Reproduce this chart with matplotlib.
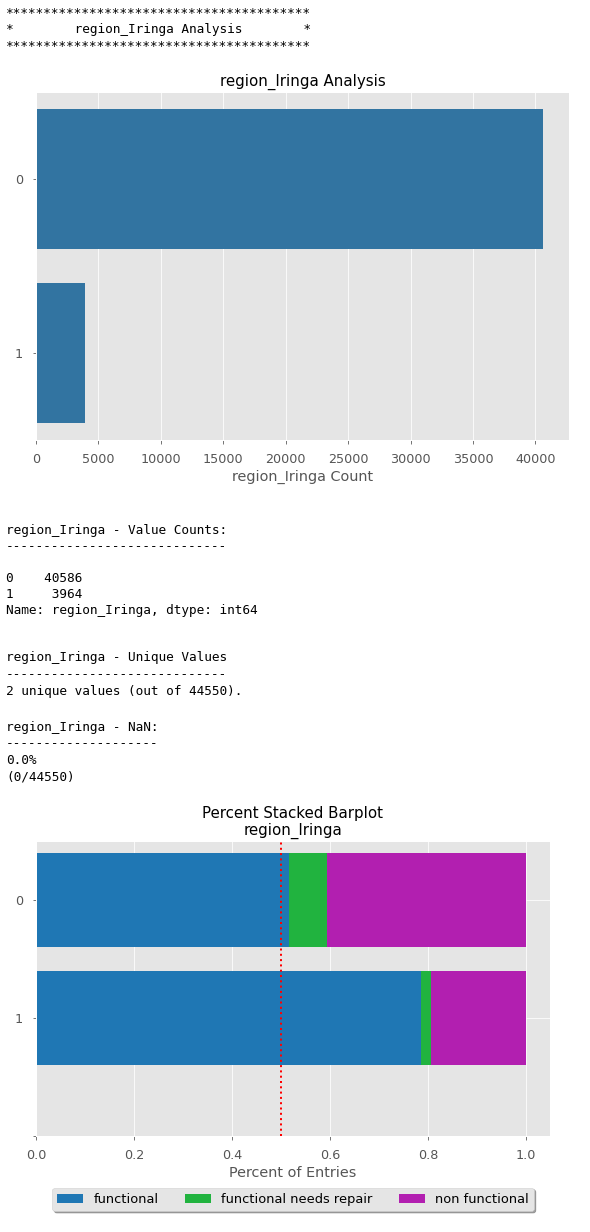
import numpy as np
import matplotlib
matplotlib.use("Agg")
from matplotlib import pyplot as plt

plt.style.use("ggplot")

#The column being looked at
colname = "region_Iringa"
#Value counts for the column
categories = ["0", "1"]
counts = [40586, 3964]
#Share of each pump status per category
status_labels = ["functional", "functional needs repair", "non functional"]
status_colors = ["#1f77b4", "#21b33f", "#b21fb0"]
functional = [0.516, 0.786]
needs_repair = [0.078, 0.020]
non_functional = [0.406, 0.194]

#Printed output around the plots
header = ["*" * 40,
          "*        " + colname + " Analysis        *",
          "*" * 40]
block_counts = [colname + " - Value Counts:",
                "-" * 29,
                "",
                "0    40586",
                "1     3964",
                "Name: " + colname + ", dtype: int64"]
block_unique = [colname + " - Unique Values",
                "-" * 29,
                "2 unique values (out of 44550)."]
block_nan = [colname + " - NaN:",
             "-" * 20,
             "0.0%",
             "(0/44550)"]

W, H = 590, 1232
fig = plt.figure(figsize=(W / 72, H / 72), dpi=72, facecolor="white")

def put_lines(lines, y0, step):
    for i, line in enumerate(lines):
        fig.text(6 / W, 1 - (y0 + i * step) / H, line, family="DejaVu Sans Mono",
                 fontsize=12.8, va="center", ha="left", color="black")

put_lines(header, 13.5, 16.5)
put_lines(block_counts, 530.5, 16)
put_lines(block_unique, 658, 16.5)
put_lines(block_nan, 727, 16.7)

#Count plot
ax1 = fig.add_axes([36 / W, 1 - 440 / H, 533 / W, 348 / H])
ypos = np.arange(len(categories))
ax1.barh(ypos, counts, height=0.8, color="#3274a1")
ax1.set_ylim(1.5, -0.5)
ax1.set_yticks(ypos)
ax1.set_yticklabels(categories)
ax1.set_xlim(0, max(counts) * 1.052)
ax1.set_xlabel(colname + " Count", fontsize=14.4)
ax1.set_title(colname + " Analysis", fontsize=15, color="black")
ax1.tick_params(labelsize=12.8, pad=9.5)
ax1.grid(axis="y", visible=False)

#Percent stacked barplot
ax2 = fig.add_axes([36 / W, 1 - 1136 / H, 514 / W, 295 / H])
left = np.zeros(len(categories))
for vals, lab, col in zip([functional, needs_repair, non_functional], status_labels, status_colors):
    ax2.barh(ypos, vals, left=left, height=0.8, color=col, label=lab)
    left = left + np.array(vals)
ax2.axvline(0.5, color="red", linestyle=":", linewidth=2)
ax2.set_xlim(0, 1.049)
ax2.set_ylim(2, -0.5)
ax2.set_yticks([0, 1, 2])
ax2.set_yticklabels(["0", "1", ""])
ax2.set_xlabel("Percent of Entries", fontsize=14.4)
ax2.set_title("Percent Stacked Barplot\n" + colname, fontsize=15, color="black")
ax2.tick_params(labelsize=12.8, pad=9.5)
ax2.legend(loc="upper center", bbox_to_anchor=(0.5, -0.153), ncol=3, shadow=True,
           fancybox=True, fontsize=13, facecolor="#e5e5e5", edgecolor="#cccccc")

fig.savefig("out.png", dpi=72)
